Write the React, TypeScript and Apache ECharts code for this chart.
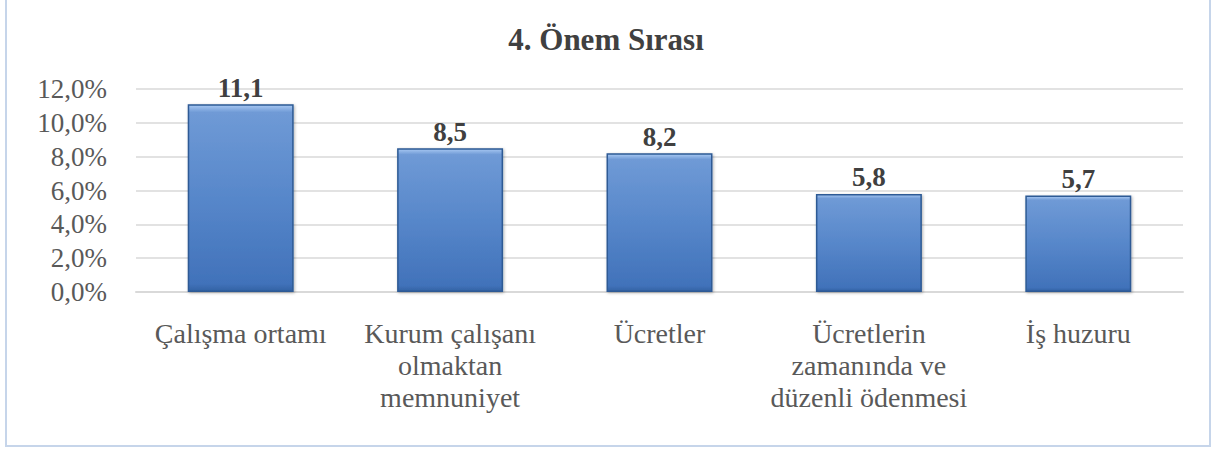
import React, { useEffect, useRef } from "react";
import * as echarts from "echarts";

const categories = [
  "Çalışma ortamı",
  "Kurum çalışanı\nolmaktan\nmemnuniyet",
  "Ücretler",
  "Ücretlerin\nzamanında ve\ndüzenli ödenmesi",
  "İş huzuru",
];
const values = [11.1, 8.5, 8.2, 5.8, 5.7];
const titleText = "4. Önem Sırası";

const fmt = (v: number) => v.toFixed(1).replace(".", ",");

export default function App() {
  const ref = useRef<HTMLDivElement>(null);
  useEffect(() => {
    document.body.style.margin = "0";
    const chart = echarts.init(ref.current!, null, { renderer: "svg" });
    const font = "Liberation Serif";
    chart.setOption({
      animation: false,
      backgroundColor: "#ffffff",
      title: {
        text: titleText,
        left: "center",
        top: 24,
        padding: 0,
        textStyle: { fontFamily: font, fontSize: 31, fontWeight: "bold", color: "#404040" },
      },
      graphic: [
        {
          type: "rect",
          shape: { x: 6, y: -1, width: 1204, height: 447 },
          style: { fill: "none", stroke: "#c6d5ea", lineWidth: 2 },
          silent: true,
          z: 100,
        },
      ],
      grid: { left: 136, right: 29, top: 89, bottom: 158 },
      xAxis: {
        type: "category",
        data: categories,
        axisLine: { lineStyle: { color: "#d9d9d9", width: 2 } },
        axisTick: { show: false },
        axisLabel: {
          interval: 0,
          fontFamily: font,
          fontSize: 28,
          color: "#595959",
          lineHeight: 32,
          margin: 25,
          align: "center",
        },
      },
      yAxis: {
        type: "value",
        min: 0,
        max: 12,
        interval: 2,
        axisLine: { show: false },
        axisTick: { show: false },
        splitLine: { lineStyle: { color: "#d9d9d9", width: 1.5 } },
        axisLabel: {
          fontFamily: font,
          fontSize: 27,
          color: "#595959",
          margin: 29,
          formatter: (v: number) => fmt(v) + "%",
        },
      },
      series: [
        {
          type: "bar",
          data: values,
          barWidth: "50.6%",
          itemStyle: {
            color: new echarts.graphic.LinearGradient(0, 0, 0, 1, [
              { offset: 0, color: "#a8c8f2" },
              { offset: 0.04, color: "#6f9ad6" },
              { offset: 0.5, color: "#5787ca" },
              { offset: 0.96, color: "#4172ba" },
              { offset: 1, color: "#3262a4" },
            ]),
            borderColor: "#2d5a95",
            borderWidth: 1.5,
            shadowColor: "rgba(0,0,0,0.3)",
            shadowBlur: 3,
            shadowOffsetX: 1,
            shadowOffsetY: 1,
          },
          label: {
            show: true,
            position: "top",
            distance: 3,
            fontFamily: font,
            fontSize: 27,
            fontWeight: "bold",
            color: "#404040",
            formatter: (p: any) => fmt(p.value),
          },
        },
      ],
    });
    return () => chart.dispose();
  }, []);
  return <div ref={ref} style={{ width: 1212, height: 450 }} />;
}
